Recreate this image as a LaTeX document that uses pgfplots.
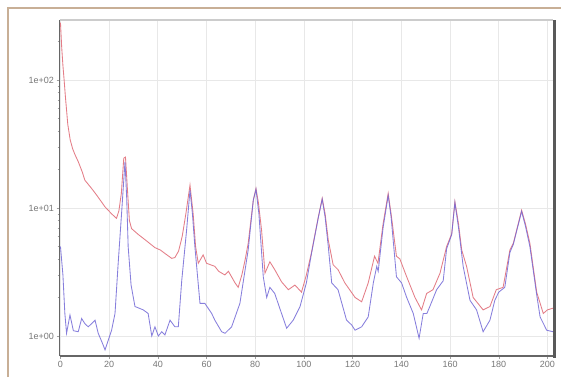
\documentclass[border=0pt]{standalone}
\usepackage{pgfplots}
\pgfplotsset{compat=1.18}
\usepackage{fontspec}
\setmainfont{Liberation Sans}
\definecolor{redl}{RGB}{228,125,135}
\definecolor{bluel}{RGB}{115,105,215}
\definecolor{tanc}{RGB}{200,175,150}
\definecolor{gridc}{RGB}{232,232,232}
\definecolor{labc}{RGB}{120,120,120}
\begin{document}
\begin{tikzpicture}[x=1pt,y=1pt]
\path[use as bounding box,fill=white] (0,0) rectangle (561,377);
\draw[tanc,line width=1.5pt] (8,0) -- (8,369) -- (561,369);
\begin{axis}[
  at={(59.5pt,21pt)}, anchor=south west,
  scale only axis, width=493.5pt, height=336pt,
  ymode=log, log basis y=10,
  xmin=-0.4, xmax=202.3, ymin=0.698, ymax=294,
  xtick={0,20,...,200},
  ytick={1,10,100}, yticklabels={1e+00,1e+01,1e+02},
  minor ytick={2,3,4,5,6,7,8,9,20,30,40,50,60,70,80,90,200},
  grid=major, major grid style={gridc, line width=0.8pt},
  axis line style={draw=none},
  tick style={labc!70, line width=0.4pt},
  major tick length=3pt, minor tick length=2pt,
  tick align=outside,
  xtick pos=bottom, ytick pos=left,
  tick label style={font=\fontsize{9}{9}\selectfont, text=labc},
  /pgf/number format/assume math mode=true,
  xticklabel style={yshift=1pt},
  yticklabel style={xshift=1pt},
  clip=true,
]
\addplot[redl, line width=0.85pt] coordinates {
(0,280) (0.5,180) (1,130) (1.5,100) (2,75) (3,45) (4,34) (5,29) (6,26) (7.3,23) (9,19) (10,16.5) (12.8,14.2) (15,12.5) (18.3,10.2) (21,9) (23,8.3) (24,9.5) (25,13) (26,24.5) (26.7,25) (27.5,14) (28.3,8) (29.2,6.9) (32,6.2) (35,5.6) (38.8,4.9) (41,4.7) (43,4.4) (45.7,4.04) (47,4.1) (48.5,4.6) (50,6) (51.5,9) (53.2,15.1) (54.5,9) (55.5,5) (56.6,3.7) (58.6,4.3) (60,3.7) (63.4,3.5) (65,3.2) (67.5,3.0) (69,3.2) (71.7,2.6) (73,2.4) (74.5,3.0) (75.8,3.9) (77.1,5.3) (79.2,11.5) (80.3,14.2) (81.3,11) (82.6,6.7) (84,3.1) (86,3.8) (88,3.3) (90.8,2.65) (93.6,2.3) (96.3,2.5) (99,2.2) (101,3) (103,4.4) (105.9,8.5) (107.5,11.9) (108.7,9) (110,5.6) (112,3.6) (114,3.3) (116.8,2.6) (121,2.0) (123.7,1.85) (126.4,2.6) (129,4.2) (130.4,3.7) (132.5,7.5) (134.6,13) (135.8,9) (138,4.2) (139.4,4.0) (142.2,2.9) (145.6,2.0) (148.3,1.6) (150.4,2.15) (153,2.3) (155.9,3.1) (158.6,5.0) (160.7,6.3) (162,11.2) (163.5,7.5) (164.8,4.7) (166.8,3.5) (169.5,2.0) (173.6,1.6) (176.4,1.7) (179,2.3) (181.8,2.4) (184.6,4.7) (186,5.3) (189.4,9.6) (191,7.5) (192.8,5.3) (195.6,2.2) (198.3,1.5) (200,1.6) (202.3,1.65)
};
\addplot[bluel, line width=0.85pt, opacity=0.85] coordinates {
(0,5.0) (1,3) (1.8,1.5) (2.5,1.05) (3.9,1.46) (5.3,1.1) (7.3,1.08) (8.7,1.37) (10,1.25) (11.4,1.18) (12.8,1.25) (14.2,1.33) (15.5,1.05) (17,0.9) (18.3,0.78) (21,1.11) (22.4,1.5) (23.7,3.7) (25.1,9.1) (26.5,23) (27.2,12) (27.8,5.0) (29,2.5) (30.6,1.7) (34,1.6) (36,1.5) (37.5,1.0) (38.8,1.18) (40.2,1.0) (41.6,1.08) (42.9,1.02) (45,1.33) (47,1.18) (48.4,1.18) (49.8,2.7) (51.8,6.7) (53.2,13.8) (54.2,9) (55.2,5.0) (57.3,1.8) (59.3,1.8) (62.1,1.5) (63.4,1.33) (66.2,1.08) (67.6,1.05) (70.3,1.18) (73.7,1.8) (75,2.6) (77.1,4.7) (79.2,11.5) (80.3,14) (81.5,9) (83.3,2.9) (84.7,2.0) (86,2.4) (88,2.15) (90.8,1.5) (92.9,1.15) (95.6,1.33) (98.4,1.7) (101,2.6) (103,4.3) (105.9,8.4) (107.5,11.7) (108.7,8.5) (110,5) (111.4,2.6) (114,2.3) (117.5,1.33) (119.6,1.22) (121,1.11) (123.7,1.18) (126.4,1.41) (128.5,2.6) (129.9,3.5) (130.5,3.2) (132.5,7) (134.6,12.5) (135.8,8.5) (138,2.9) (140.1,2.6) (142.2,2.0) (144.9,1.5) (147.3,0.96) (149,1.5) (150.5,1.5) (151.7,1.7) (154.5,2.3) (157.2,2.7) (158.6,4.8) (160.7,6.2) (162,11) (163.5,7) (165.4,3.5) (168.2,1.9) (170.9,1.6) (173.6,1.08) (176.4,1.33) (178.4,1.9) (180,2.2) (182.5,2.4) (184.6,4.5) (186,5.2) (189.4,9.4) (191,7.2) (192.8,5) (195.6,2.1) (197,1.41) (199.7,1.11) (202.3,1.08)
};
\end{axis}
\draw[black!20, line width=2pt] (59.5,357) -- (553,357);
\draw[black!60, line width=1.2pt] (59.5,21) -- (59.5,357);
\draw[black!60, line width=1.2pt] (59.5,21) -- (553,21);
\draw[black!65, line width=3pt] (554.5,19.5) -- (554.5,357);
\end{tikzpicture}
\end{document}
